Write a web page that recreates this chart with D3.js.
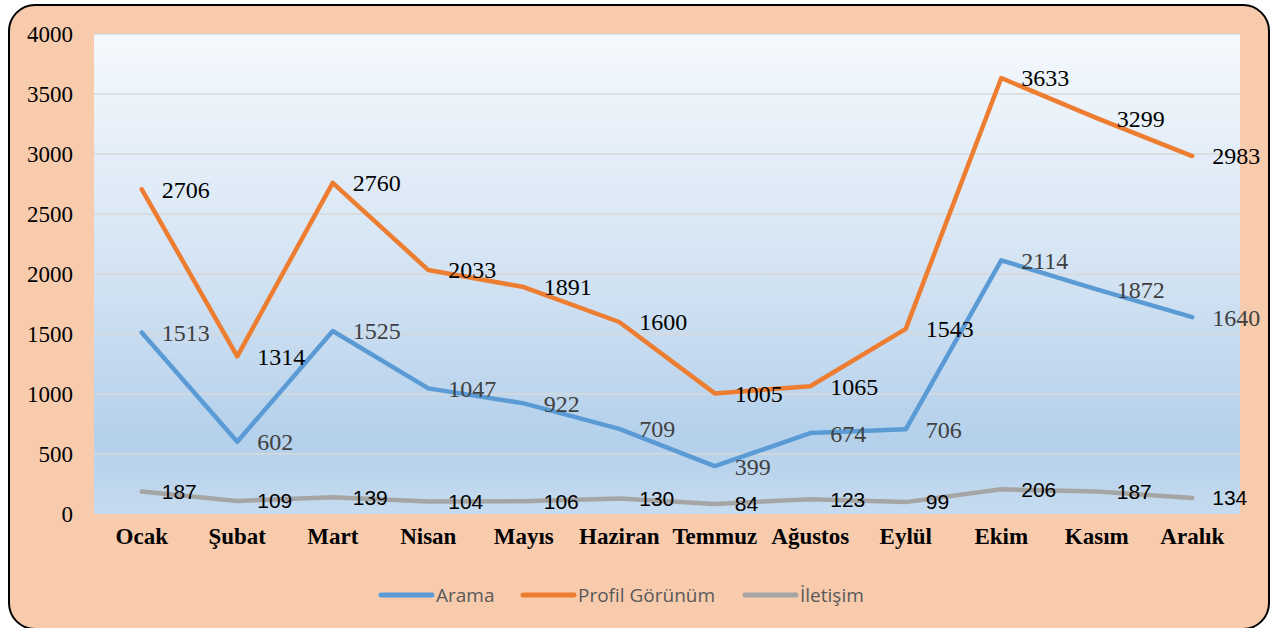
<!DOCTYPE html>
<html>
<head>
<meta charset="utf-8">
<script src="https://cdn.jsdelivr.net/npm/d3@7"></script>
<style>
  html, body { margin: 0; padding: 0; background: #fff; }
  svg { display: block; }
  .serif { font-family: 'Liberation Serif', 'Times New Roman', serif; }
  .sans { font-family: 'Liberation Sans', Arial, sans-serif; }
  .legend-text { font-family: 'Open Sans', 'Noto Sans', sans-serif; }
</style>
</head>
<body>
<svg id="chart" width="1281" height="628"></svg>
<script>
var MONTHS = ['Ocak', 'Şubat', 'Mart', 'Nisan', 'Mayıs', 'Haziran', 'Temmuz', 'Ağustos', 'Eylül', 'Ekim', 'Kasım', 'Aralık'];
var ARAMA = [1513, 602, 1525, 1047, 922, 709, 399, 674, 706, 2114, 1872, 1640];
var PROFIL = [2706, 1314, 2760, 2033, 1891, 1600, 1005, 1065, 1543, 3633, 3299, 2983];
var ILETISIM = [187, 109, 139, 104, 106, 130, 84, 123, 99, 206, 187, 134];
var Y_TICKS = [0, 500, 1000, 1500, 2000, 2500, 3000, 3500, 4000];

var SERIES = [
  { name: 'Arama', values: ARAMA, color: '#5b9bd5', labelClass: 'serif', labelColor: '#404040', labelSize: 24 },
  { name: 'Profil Görünüm', values: PROFIL, color: '#ed7d31', labelClass: 'serif', labelColor: '#000', labelSize: 24 },
  { name: 'İletişim', values: ILETISIM, color: '#a5a5a5', labelClass: 'sans', labelColor: '#000', labelSize: 21 },
];

var svg = d3.select('#chart');
var plot = { left: 94, right: 1240, top: 34, bottom: 514 };

// frame
svg.append('rect')
    .attr('x', 9).attr('y', 5)
    .attr('width', 1260).attr('height', 624)
    .attr('rx', 26).attr('ry', 26)
    .attr('fill', '#f8cbad')
    .attr('stroke', '#000')
    .attr('stroke-width', 2);

var defs = svg.append('defs');
var grad = defs.append('linearGradient')
    .attr('id', 'plotbg')
    .attr('x1', 0).attr('y1', 0).attr('x2', 0).attr('y2', 1);
grad.append('stop').attr('offset', '0%').attr('stop-color', '#f5f9fd');
grad.append('stop').attr('offset', '50%').attr('stop-color', '#d3e3f3');
grad.append('stop').attr('offset', '85%').attr('stop-color', '#b4d0eb');
grad.append('stop').attr('offset', '100%').attr('stop-color', '#c6dbef');

svg.append('rect')
    .attr('x', plot.left).attr('y', plot.top)
    .attr('width', plot.right - plot.left)
    .attr('height', plot.bottom - plot.top)
    .attr('fill', 'url(#plotbg)');

var x = d3.scaleBand().domain(MONTHS).range([plot.left, plot.right]);
var y = d3.scaleLinear().domain([0, 4000]).range([plot.bottom, plot.top]);
var cx = function(i) { return x(MONTHS[i]) + x.bandwidth() / 2; };

// gridlines
svg.append('g')
  .selectAll('line')
  .data(Y_TICKS.filter(function(t) { return t > 0; }))
  .join('line')
    .attr('x1', plot.left).attr('x2', plot.right)
    .attr('y1', function(d) { return y(d); })
    .attr('y2', function(d) { return y(d); })
    .attr('stroke', '#d9d9d9')
    .attr('stroke-width', 1.5);

// y axis labels
var yAxis = svg.append('g')
    .attr('transform', 'translate(' + (plot.left - 21) + ',0)')
    .call(d3.axisLeft(y).tickValues(Y_TICKS).tickFormat(d3.format('d')).tickSize(0).tickPadding(0));
yAxis.select('.domain').remove();
yAxis.attr('font-family', null).attr('font-size', null);
yAxis.selectAll('text')
    .attr('class', 'serif')
    .style('font-size', '23px')
    .attr('fill', '#000');

// x axis labels
var xAxis = svg.append('g')
    .attr('transform', 'translate(0,' + (plot.bottom + 14) + ')')
    .call(d3.axisBottom(x).tickSize(0).tickPadding(0));
xAxis.select('.domain').remove();
xAxis.attr('font-family', null).attr('font-size', null);
xAxis.selectAll('text')
    .attr('class', 'serif')
    .style('font-weight', 'bold')
    .style('font-size', '23px')
    .attr('fill', '#000');

var line = d3.line()
    .x(function(d, i) { return cx(i); })
    .y(function(d) { return y(d); });

// draw lines back to front: gray, orange, blue
[SERIES[2], SERIES[1], SERIES[0]].forEach(function(s) {
  svg.append('path')
      .datum(s.values)
      .attr('d', line)
      .attr('fill', 'none')
      .attr('stroke', s.color)
      .attr('stroke-width', 4.5)
      .attr('stroke-linejoin', 'round')
      .attr('stroke-linecap', 'round');
});

// data labels, to the right of each point
SERIES.forEach(function(s) {
  svg.append('g')
    .selectAll('text')
    .data(s.values)
    .join('text')
      .attr('class', s.labelClass)
      .attr('x', function(d, i) { return cx(i) + 20; })
      .attr('y', function(d) { return y(d); })
      .attr('dy', '0.35em')
      .style('font-size', s.labelSize + 'px')
      .attr('fill', s.labelColor)
      .text(function(d) { return d; });
});

// legend
var legendItems = [
  { s: SERIES[0], x: 381 },
  { s: SERIES[1], x: 523 },
  { s: SERIES[2], x: 745 },
];
var legend = svg.append('g');
legendItems.forEach(function(item) {
  legend.append('line')
      .attr('x1', item.x).attr('x2', item.x + 51)
      .attr('y1', 595).attr('y2', 595)
      .attr('stroke', item.s.color)
      .attr('stroke-width', 5)
      .attr('stroke-linecap', 'round');
  legend.append('text')
      .attr('class', 'legend-text')
      .attr('x', item.x + 55)
      .attr('y', 595)
      .attr('dy', '0.35em')
      .style('font-size', '19px')
      .attr('fill', '#595959')
      .text(item.s.name);
});
</script>
</body>
</html>
